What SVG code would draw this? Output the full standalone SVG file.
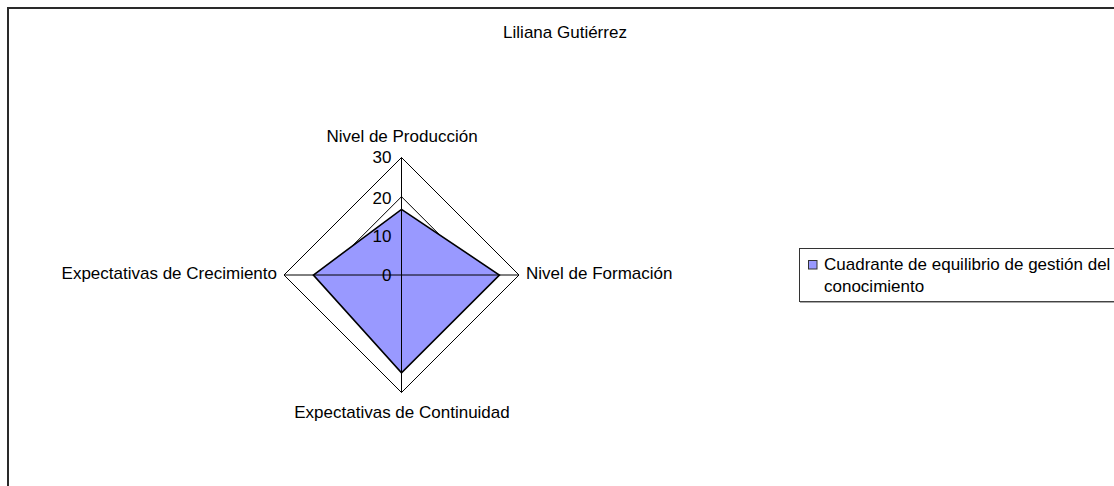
<svg xmlns="http://www.w3.org/2000/svg" width="1114" height="486" viewBox="0 0 1114 486">
<style>
text{font-family:"Liberation Sans",Arial,sans-serif;font-size:17px;fill:#000}
.ring{fill:none;stroke:#000;stroke-width:1}
.axis{stroke:#000;stroke-width:1}
.data{fill:#9999FF;stroke:#000;stroke-width:1.6;stroke-linejoin:miter}
</style>
<rect x="8" y="8" width="1120" height="490" fill="#fff" stroke="#2a2a2a" stroke-width="2"/>
<text x="565" y="38" text-anchor="middle">Liliana Gutiérrez</text>
<g id="grid">
<polygon class="ring" points="401.5,157.5 519,275 401.5,392.5 284,275"/>
<polygon class="ring" points="401.5,196.7 479.8,275 401.5,353.3 323.2,275"/>
<polygon class="ring" points="401.5,235.8 440.7,275 401.5,314.2 362.3,275"/>
</g>
<g id="series">
<polygon class="data" points="401.5,209.4 499.4,275 401.5,372.9 313.4,275"/>
</g>
<g id="connectors">
<line class="axis" x1="401.5" y1="157.5" x2="401.5" y2="392.5"/>
<line class="axis" x1="284" y1="275" x2="519" y2="275"/>
</g>
<g id="ticks">
<text x="391.5" y="163" text-anchor="end">30</text>
<text x="391.5" y="204" text-anchor="end">20</text>
<text x="391.5" y="242" text-anchor="end">10</text>
<text x="391.5" y="281" text-anchor="end">0</text>
</g>
<g id="axis-produccion"><text x="402" y="142" text-anchor="middle">Nivel de Producción</text></g>
<g id="axis-formacion"><text x="526" y="279" text-anchor="start">Nivel de Formación</text></g>
<g id="axis-continuidad"><text x="402" y="418" text-anchor="middle">Expectativas de Continuidad</text></g>
<g id="axis-crecimiento"><text x="277" y="279" text-anchor="end">Expectativas de Crecimiento</text></g>
<g id="legend">
<rect x="799.5" y="248.5" width="330" height="53" fill="#fff" stroke="#333" stroke-width="1"/>
<line x1="800" y1="302" x2="1130" y2="302" stroke="#555" stroke-width="1"/>
<rect x="808.5" y="260.5" width="8.5" height="8.5" fill="#9999FF" stroke="#333" stroke-width="1"/>
<text x="824" y="270">Cuadrante de equilibrio de gestión del</text>
<text x="824" y="292">conocimiento</text>
</g>
</svg>
